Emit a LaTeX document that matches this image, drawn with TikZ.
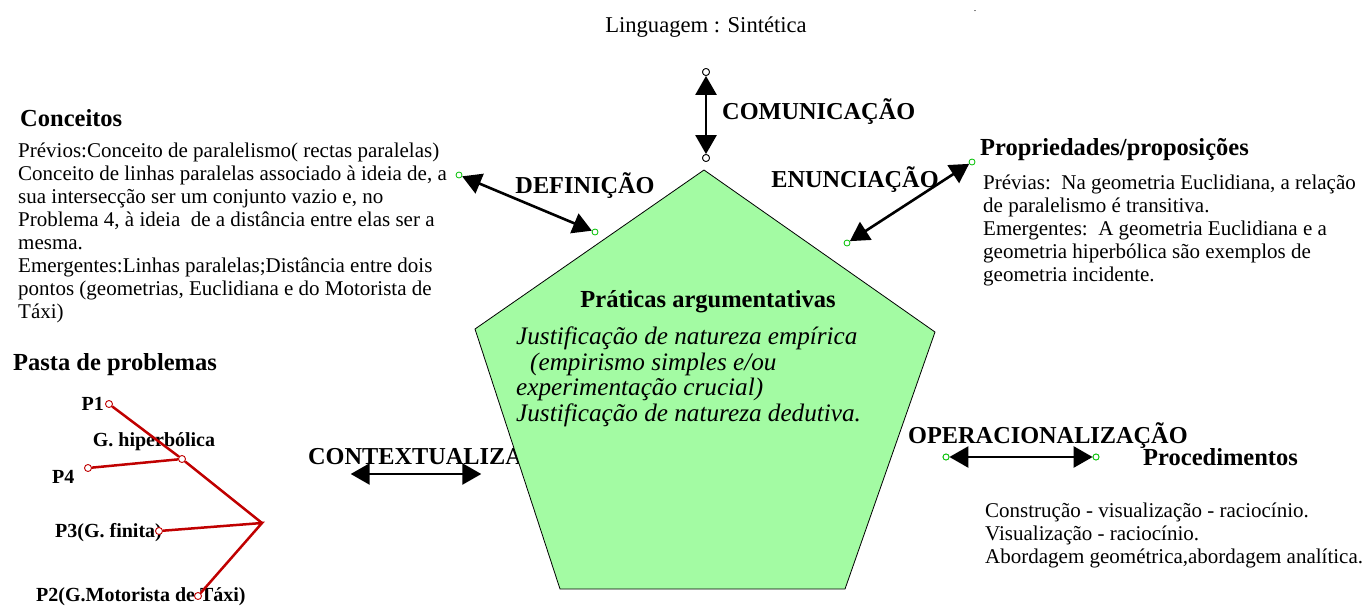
\documentclass[tikz,border=0pt]{standalone}
\usepackage{fontspec}
\setmainfont{Liberation Serif}
\usetikzlibrary{arrows.meta}
\definecolor{pent}{HTML}{A3FBA3}
\definecolor{tree}{HTML}{C00000}
\definecolor{dotg}{HTML}{00C000}
\begin{document}
\begin{tikzpicture}[x=1pt,y=-1pt,
  body/.style={font=\fontsize{21}{23}\selectfont, inner sep=0pt, align=left, anchor=north west},
  ital/.style={font=\fontsize{25.2}{25.5}\selectfont\itshape, inner sep=0pt, align=left, anchor=north west},
  lab/.style={font=\fontsize{24.3}{28}\selectfont\bfseries, inner sep=0pt},
  head/.style={font=\fontsize{24.5}{28}\selectfont\bfseries, inner sep=0pt},
  plab/.style={font=\fontsize{20}{24}\selectfont\bfseries, inner sep=0pt},
  gdot/.style={circle, draw=dotg, fill=white, minimum size=6pt, inner sep=0pt, line width=0.8pt},
  kdot/.style={circle, draw=black, fill=white, minimum size=7pt, inner sep=0pt, line width=0.8pt},
  rdot/.style={circle, draw=tree, fill=white, minimum size=7pt, inner sep=0pt, line width=0.9pt},
  dbl/.style={line width=2.6pt, {Triangle[length=19pt,width=21pt]}-{Triangle[length=19pt,width=21pt]}},
  tl/.style={draw=tree, line width=2.5pt}
]
\useasboundingbox (0,0) rectangle (1367,605);

% top
\node[font=\fontsize{22.6}{26}\selectfont, inner sep=0pt] (ling) at (706,27) {Linguagem : Sintética};
\node[inner sep=0pt, anchor=base, font=\fontsize{10}{12}\selectfont] (pt) at (975,11) {.};
\node[kdot] (ct) at (706,72) {};
\node[kdot] (cb) at (706,158) {};
\draw[dbl] (ct) -- (cb);
\node[kdot] at (ct) {};
\node[kdot] at (cb) {};
\node[lab, anchor=west] (com) at (722,112) {COMUNICAÇÃO};

% Conceitos
\node[head, anchor=west] (conc) at (20,118) {Conceitos};
\node[body] (conctext) at (18,143) {Prévios:Conceito de paralelismo( rectas paralelas)\\
Conceito de linhas paralelas associado à ideia de, a\\
sua intersecção ser um conjunto vazio e, no\\
Problema 4, à ideia\ \ de a distância entre elas ser a\\
mesma.\\
Emergentes:Linhas paralelas;Distância entre dois\\
pontos (geometrias, Euclidiana e do Motorista de\\
Táxi)};

% Definicao
\node[gdot] (da) at (459,175) {};
\node[gdot] (db) at (595,232) {};
\draw[dbl] (da) -- (db);
\node[lab] (def) at (585,186) {DEFINIÇÃO};

% Enunciacao
\node[gdot] (ea) at (847,243) {};
\node[gdot] (eb) at (972,162) {};
\draw[dbl] (ea) -- (eb);
\node[lab] (enu) at (855,180) {ENUNCIAÇÃO};

% Propriedades
\node[head, anchor=west] (prop) at (980,150) {Propriedades/proposições};
\node[body] (proptext) at (983,175) {Prévias:\ \ Na geometria Euclidiana, a relação\\
de paralelismo é transitiva.\\
Emergentes:\ \ A geometria Euclidiana e a\\
geometria hiperbólica são exemplos de\\
geometria incidente.};

% Contextualiza (behind pentagon)
\node[lab, anchor=west] (ctx) at (308,457) {CONTEXTUALIZA};
\node[inner sep=0pt] (xa) at (350,474) {};
\node[inner sep=0pt] (xb) at (482,474) {};
\draw[dbl] (xa) -- (xb);

% Pentagon
\draw[fill=pent, line width=0.8pt] (704,170) coordinate (p1) -- (935,332) coordinate (p2)
  -- (845,589) coordinate (p3) -- (560,589) coordinate (p4) -- (475,329) coordinate (p5) -- cycle;
\node[head] (prat) at (708,302) {Práticas argumentativas};
\node[ital] (pratext) at (516,327) {Justificação de natureza empírica\\
\hspace*{14pt}(empirismo simples e/ou\\
experimentação crucial)\\
Justificação de natureza dedutiva.};

% Operacionalizacao
\node[lab, anchor=west] (ope) at (908,436) {OPERACIONALIZAÇÃO};
\node[gdot] (oa) at (946,457) {};
\node[gdot] (ob) at (1096,457) {};
\draw[dbl] (oa) -- (ob);
\node[gdot] at (oa) {};
\node[gdot] at (ob) {};
\node[head, anchor=west] (proc) at (1143,457) {Procedimentos};
\node[body] (proctext) at (985,503) {Construção - visualização - raciocínio.\\
Visualização - raciocínio.\\
Abordagem geométrica,abordagem analítica.};

% Pasta de problemas
\node[head, anchor=west] (pasta) at (13,365) {Pasta de problemas};
\node[plab, anchor=east] (lp1) at (104,404) {P1};
\node[plab] (lg) at (154,442) {G. hiperbólica};
\node[plab, anchor=west] (lp4) at (52,477) {P4};
\node[plab, anchor=west] (lp3) at (55,533) {P3(G. finita)};
\node[plab, anchor=west] (lp2) at (36,597) {P2(G.Motorista de Táxi)};
\node[rdot] (r1) at (109,404) {};
\node[rdot] (rg) at (182,459) {};
\node[rdot] (r4) at (88,468) {};
\node[rdot] (r3) at (159,531) {};
\node[rdot] (r2) at (198,596) {};
\coordinate (rv) at (262,523);
\draw[tl] (r1) -- (rg) -- (rv);
\draw[tl] (r4) -- (rg);
\draw[tl] (r3) -- (rv) -- (r2);
\end{tikzpicture}
\end{document}
